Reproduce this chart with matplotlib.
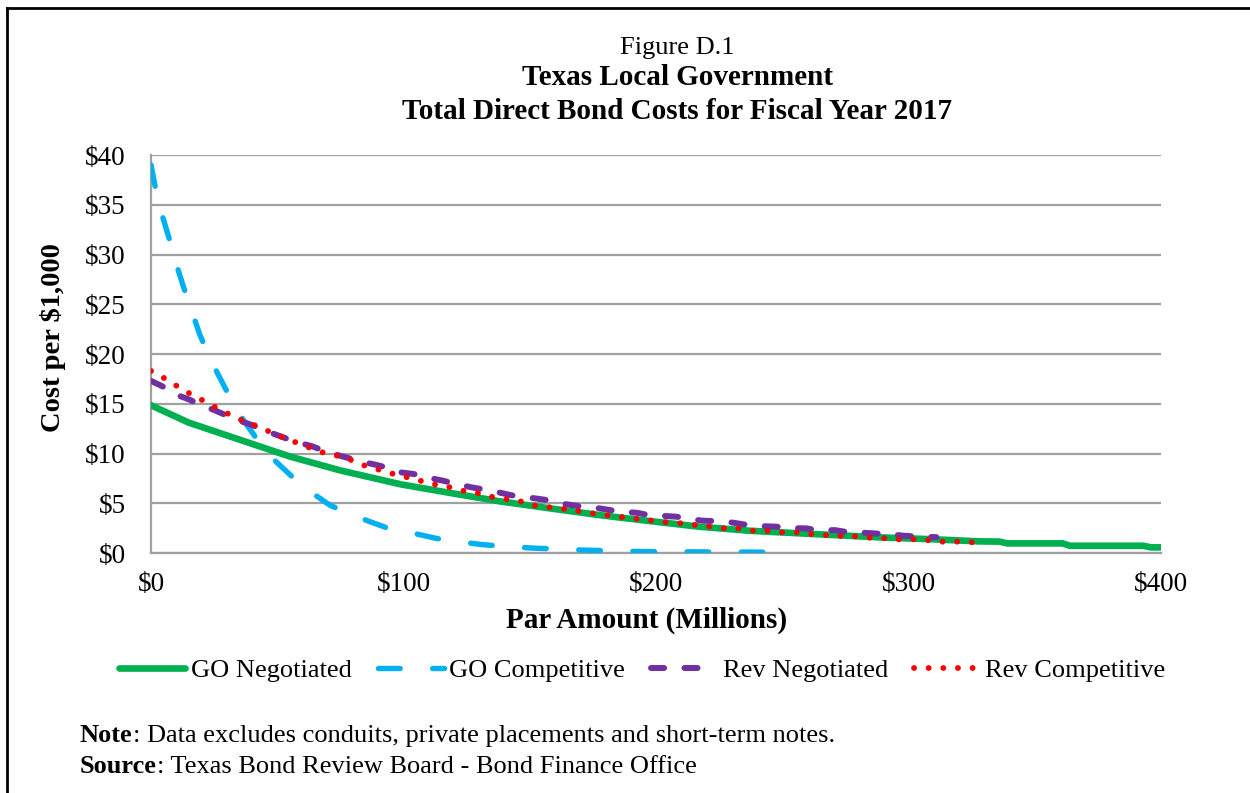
import matplotlib
matplotlib.use("Agg")
import matplotlib.pyplot as plt
from matplotlib.lines import Line2D

plt.rcParams['font.family'] = ['Liberation Serif', 'DejaVu Serif']

# par amount ($ millions) and cost per $1,000 for each bond type
go_neg_x = [0, 15, 35, 55, 75, 99, 118, 138, 158, 178, 198, 217, 237, 257, 289, 310,
            328, 336, 339, 361, 364, 393, 396, 400]
go_neg_y = [14.85, 13.1, 11.4, 9.7, 8.3, 6.9, 6.06, 5.2, 4.49, 3.8, 3.2, 2.65, 2.24, 1.98,
            1.57, 1.38, 1.17, 1.15, 0.97, 0.97, 0.73, 0.73, 0.57, 0.57]

go_comp_x = [0, 1.6, 4.6, 7.2, 10.2, 12.8, 16.4, 19.4, 23.6, 27.3, 32.6, 36.5, 43.2, 48.2,
             56.6, 62.3, 70.9, 76.8, 86.7, 94, 104, 113, 122, 131, 141, 151, 161, 171,
             182, 192, 202, 212, 230, 253]
go_comp_y = [39.0, 36.9, 33.8, 31.6, 28.9, 26.8, 24.1, 21.9, 19.4, 17.6, 15.0, 13.4, 11.0,
             9.5, 7.5, 6.3, 4.8, 4.15, 3.15, 2.48, 1.98, 1.47, 1.14, 0.85, 0.65, 0.5, 0.4,
             0.3, 0.22, 0.16, 0.13, 0.12, 0.1, 0.08]

rev_neg_x = [0, 6.2, 10.2, 15.4, 19.4, 24.7, 29.3, 33.9, 38.5, 43.8, 48.4, 53.7, 58.3, 63.6,
             68.2, 73.8, 78.8, 84.8, 89.4, 94.7, 99.2, 105.2, 109.8, 115.7, 121, 127, 131.6,
             137.6, 142.9, 148.8, 154, 159.4, 164, 170.6, 175, 181.8, 185.7, 192.3, 197,
             203.5, 208.2, 214, 218.7, 226, 230.6, 236.5, 241.2, 247.8, 252, 259.6, 263.6,
             270.9, 274.9, 282.1, 286, 293.3, 298, 304.6, 311]
rev_neg_y = [17.3, 16.55, 15.9, 15.4, 14.9, 14.4, 13.9, 13.4, 13.0, 12.5, 12.0, 11.5, 11.1,
             10.75, 10.3, 9.85, 9.5, 9.1, 8.85, 8.5, 8.1, 7.9, 7.57, 7.27, 6.93, 6.6, 6.4,
             6.1, 5.8, 5.6, 5.43, 5.23, 4.92, 4.66, 4.59, 4.32, 4.15, 4.05, 3.82, 3.72, 3.65,
             3.39, 3.25, 3.19, 3.05, 2.81, 2.71, 2.65, 2.5, 2.48, 2.3, 2.3, 2.14, 2.04, 1.98,
             1.88, 1.74, 1.64, 1.6]

rev_comp_x = [0, 6.5, 10.8, 15.2, 19.7, 24.4, 29, 33.5, 38.5, 43.4, 48.4, 53.5, 58.7, 63.6,
              68.2, 73.5, 78.8, 83.8, 88.7, 94, 99.3, 104.3, 109.5, 114.7, 120, 124.8, 129.9,
              134.7, 140.2, 145.7, 150.5, 156, 161.7, 167, 172.5, 177.5, 183, 188.7, 194,
              199.6, 205.3, 211, 216, 221.6, 227.3, 233.3, 238.5, 244, 249.5, 255.3, 260.6,
              266.2, 271.9, 277.7, 283.2, 288.7, 294, 300, 306, 311, 317, 323, 329]
rev_comp_y = [18.3, 17.4, 16.7, 16.05, 15.45, 14.8, 14.2, 13.6, 13.1, 12.6, 12.03, 11.5,
              11.0, 10.5, 10.1, 9.8, 9.4, 8.85, 8.5, 8.07, 7.77, 7.4, 7.1, 6.73, 6.57, 6.16,
              6.0, 5.66, 5.43, 5.26, 4.82, 4.65, 4.49, 4.32, 4.09, 3.89, 3.72, 3.55, 3.39,
              3.22, 3.05, 2.98, 2.81, 2.65, 2.48, 2.48, 2.24, 2.24, 2.08, 2.08, 1.91, 1.81,
              1.71, 1.71, 1.54, 1.54, 1.38, 1.38, 1.38, 1.14, 1.14, 1.14, 0.97]

x_ticks = [0, 100, 200, 300, 400]
y_ticks = [0, 5, 10, 15, 20, 25, 30, 35, 40]

fig = plt.figure(figsize=(12.5, 7.93), dpi=100)
ax = fig.add_axes([0.1208, 0.3026, 0.808, 0.5019])

ax.plot(go_neg_x, go_neg_y, color='#00B050', lw=4.8, solid_capstyle='round',
        solid_joinstyle='round', label='GO Negotiated', zorder=3)
ax.plot(go_comp_x, go_comp_y, color='#00B0F0', lw=3.9, dashes=(4, 6),
        dash_capstyle='round', label='GO Competitive', zorder=3)
ax.plot(rev_neg_x, rev_neg_y, color='#7030A0', lw=4.3, dashes=(2.2, 3.4),
        dash_capstyle='round', label='Rev Negotiated', zorder=4)
ax.plot(rev_comp_x, rev_comp_y, color='#FF0000', lw=4.2, dashes=(0.01, 2.5),
        dash_capstyle='round', label='Rev Competitive', zorder=5)

ax.set_xlim(0, 400)
ax.set_ylim(0, 40)
ax.set_xticks(x_ticks)
ax.set_xticklabels(['${}'.format(v) for v in x_ticks])
ax.set_yticks(y_ticks)
ax.set_yticklabels(['${}'.format(v) for v in y_ticks])
ax.tick_params(length=0, labelsize=19.5)
ax.tick_params(axis='y', pad=18)
ax.tick_params(axis='x', pad=14)

ax.grid(axis='y', color='#A0A0A0', lw=1.6)
ax.set_axisbelow(True)
for side in ['top', 'right']:
    ax.spines[side].set_visible(False)
for side in ['left', 'bottom']:
    ax.spines[side].set_color('#A0A0A0')
    ax.spines[side].set_linewidth(1.6)

# titles and axis labels
fig.text(0.542, 0.939, 'Figure D.1', ha='center', va='center', fontsize=19)
fig.text(0.542, 0.902, 'Texas Local Government', ha='center', va='center',
         fontsize=21, fontweight='bold')
fig.text(0.542, 0.859, 'Total Direct Bond Costs for Fiscal Year 2017', ha='center',
         va='center', fontsize=21, fontweight='bold')
fig.text(0.042, 0.574, 'Cost per $1,000', rotation=90, ha='center', va='center',
         fontsize=20.5, fontweight='bold')
fig.text(0.517, 0.218, 'Par Amount (Millions)', ha='center', va='center',
         fontsize=21, fontweight='bold')

fig.legend(loc='center', bbox_to_anchor=(0.514, 0.155), ncol=4, frameon=False,
           fontsize=19, handlelength=2.5, handletextpad=0.2, columnspacing=1.0)

# footnotes with bold lead words
note = fig.text(0.064, 0.073, 'Note', fontsize=19, fontweight='bold', va='center')
ax.annotate(': Data excludes conduits, private placements and short-term notes.',
            xy=(1, 0), xycoords=note, va='bottom', ha='left', fontsize=19,
            annotation_clip=False)
src = fig.text(0.064, 0.033, 'Source', fontsize=19, fontweight='bold', va='center')
ax.annotate(': Texas Bond Review Board - Bond Finance Office',
            xy=(1, 0), xycoords=src, va='bottom', ha='left', fontsize=19,
            annotation_clip=False)

# outer border on the left and top
fig.add_artist(Line2D([7 / 1250, 7 / 1250], [0, 1 - 8 / 793],
                      transform=fig.transFigure, color='black', lw=2))
fig.add_artist(Line2D([7 / 1250, 1], [1 - 8 / 793, 1 - 8 / 793],
                      transform=fig.transFigure, color='black', lw=2))

fig.savefig('out.png', dpi=100)
